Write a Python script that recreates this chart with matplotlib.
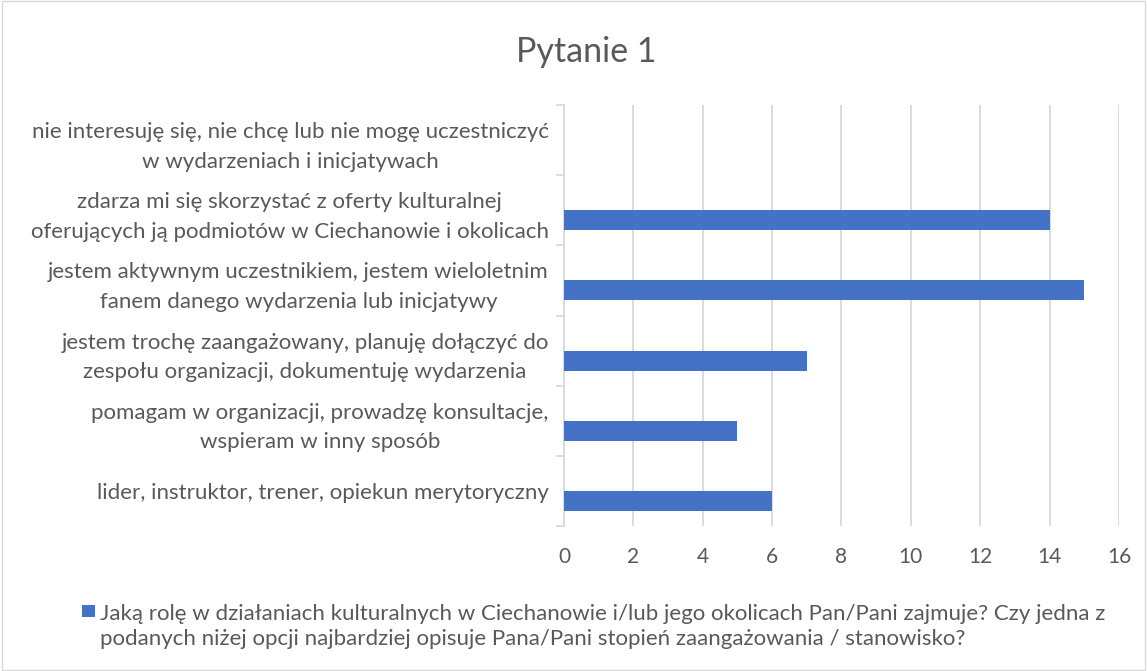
import matplotlib.pyplot as plt
from matplotlib.patches import Rectangle

plt.rcParams['font.family'] = ['Lato', 'DejaVu Sans']

categories = [
    'lider, instruktor, trener, opiekun merytoryczny',
    'pomagam w organizacji, prowadzę konsultacje,\nwspieram w inny sposób',
    'jestem trochę zaangażowany, planuję dołączyć do\nzespołu organizacji, dokumentuję wydarzenia',
    'jestem aktywnym uczestnikiem, jestem wieloletnim\nfanem danego wydarzenia lub inicjatywy',
    'zdarza mi się skorzystać z oferty kulturalnej\noferujących ją podmiotów w Ciechanowie i okolicach',
    'nie interesuję się, nie chcę lub nie mogę uczestniczyć\nw wydarzeniach i inicjatywach',
]
values = [6, 5, 7, 15, 14, 0]
series_name = ('Jaką rolę w działaniach kulturalnych w Ciechanowie i/lub jego okolicach Pan/Pani zajmuje? Czy jedna z\n'
               'podanych niżej opcji najbardziej opisuje Pana/Pani stopień zaangażowania / stanowisko?')
x_ticks = [0, 2, 4, 6, 8, 10, 12, 14, 16]

bar_color = '#4472C4'
text_color = '#595959'
grid_color = '#D9D9D9'

fig = plt.figure(figsize=(11.47, 6.71), dpi=100)
fig.patches.append(Rectangle((0.002, 0.002), 0.996, 0.996, transform=fig.transFigure,
                             fill=False, edgecolor=grid_color, linewidth=1))
ax = fig.add_axes([0.4917, 0.2161, 0.4839, 0.6274])

# bars sit just below the band centre, like the Excel original
pos = [i - 0.143 for i in range(len(values))]
ax.barh(pos, values, height=0.286, color=bar_color, zorder=3)

ax.set_xlim(0, 16)
ax.set_ylim(-0.5, len(values) - 0.5)
ax.set_xticks(x_ticks)
ax.set_xticklabels([str(t) for t in x_ticks], fontsize=15, color=text_color)
ax.tick_params(axis='x', length=0, pad=15)
ax.grid(axis='x', color=grid_color, linewidth=1.3, zorder=0)

ax.set_yticks(range(len(categories)))
ax.set_yticklabels(categories, fontsize=16, color=text_color, multialignment='center',
                   linespacing=1.6)
ax.tick_params(axis='y', which='major', length=0, pad=11)
ax.set_yticks([i - 0.5 for i in range(len(categories) + 1)], minor=True)
ax.tick_params(axis='y', which='minor', length=6, color=grid_color, width=1.3)

for s in ['top', 'right', 'bottom']:
    ax.spines[s].set_visible(False)
ax.spines['left'].set_color(grid_color)
ax.spines['left'].set_linewidth(1.3)

fig.text(0.511, 0.922, 'Pytanie 1', fontsize=24.5, color=text_color, ha='center', va='center')

fig.patches.append(Rectangle((0.0715, 0.0805), 0.0113, 0.0179, transform=fig.transFigure,
                             facecolor=bar_color, edgecolor='none'))
fig.text(0.0872, 0.0663, series_name, fontsize=16, color=text_color, ha='left', va='center',
         linespacing=1.37)

fig.savefig('out.png', dpi=100)
